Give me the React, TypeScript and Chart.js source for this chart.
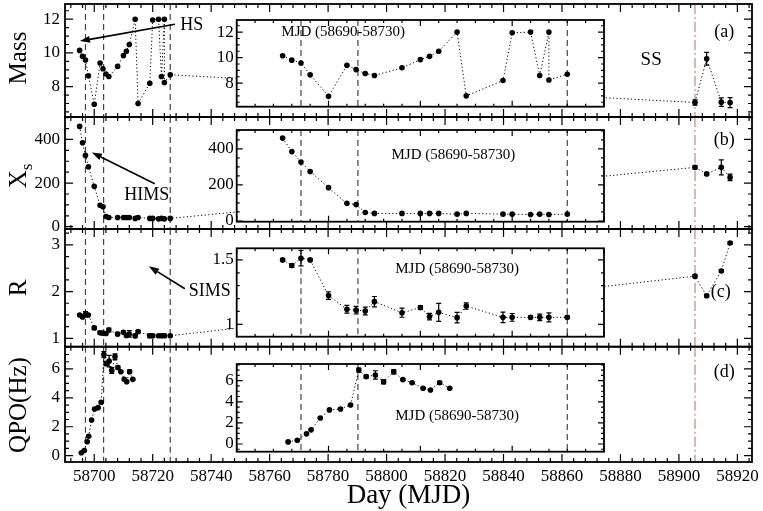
import { useEffect, useRef } from "react";
import { Chart, registerables } from "chart.js";

// Registra todos os controladores, elementos, escalas e plugins do Chart.js
Chart.register(...registerables);

const W = 763;
const H = 511;
const SERIF = '"Liberation Serif", "Times New Roman", serif';

// Eixo de tempo (MJD)
const dayMin = 58690;
const dayMax = 58925;
const insetDayMin = 58690;
const insetDayMax = 58730;
const dayTicks = [58700, 58720, 58740, 58760, 58780, 58800, 58820, 58840, 58860, 58880, 58900, 58920];
const stateLines = [58697, 58703.2, 58726];
const ssLine = 58905.5;

// Dias das observações
const earlyDays = [58695, 58696, 58697, 58698, 58700, 58702, 58703, 58704, 58705, 58708, 58710, 58711, 58712, 58714, 58715, 58719, 58720, 58722, 58723, 58724, 58726];
const massDays = [58695, 58696, 58697, 58698, 58700, 58702, 58703, 58704, 58705, 58708, 58710, 58711, 58712, 58714, 58715, 58719, 58720, 58722, 58723, 58724, 58724, 58726];
const lateDays = [58905.5, 58909.5, 58914.5, 58917.5];
const qpoDays = [58695.6, 58696.6, 58697.6, 58698.1, 58699.1, 58700.1, 58701.3, 58702.4, 58703.3, 58704.1, 58705.1, 58706.0, 58707.1, 58708.1, 58709.1, 58710.3, 58711.1, 58712.1, 58713.2];

// Massa
const massEarly = [10.15, 9.8, 9.58, 8.65, 6.96, 9.4, 9.06, 8.75, 8.6, 9.2, 9.84, 10.1, 10.5, 12.0, 7.0, 8.2, 11.95, 12.0, 8.6, 12.0, 8.25, 8.7];
const massLate = [7.06, 9.65, 7.08, 7.05];
const massLateErr = [0.15, 0.38, 0.25, 0.3];

// X_s
const xsEarly = [460, 385, 327, 275, 185, 98, 91, 47, 42, 42, 42, 42, 42, 38, 42, 38, 38, 36, 38, 36, 38];
const xsLate = [272, 242, 272, 226];
const xsLateErr = [8, 6, 34, 15];

// R
const rEarly = [1.5, 1.456, 1.513, 1.5, 1.223, 1.117, 1.11, 1.104, 1.176, 1.09, 1.13, 1.06, 1.093, 1.052, 1.142, 1.054, 1.054, 1.054, 1.054, 1.054, 1.054];
const rEarlyErr = [0.008, 0.015, 0.06, 0.008, 0.03, 0.03, 0.03, 0.03, 0.04, 0.035, 0.015, 0.025, 0.07, 0.04, 0.025, 0.04, 0.03, 0.01, 0.025, 0.035, 0.01];
const rLate = [2.33, 1.91, 2.44, 3.04];
const rLateErr = [0.03, 0.03, 0.03, 0.03];

// QPO
const qpoVals = [0.2, 0.36, 0.96, 1.34, 2.47, 3.23, 3.32, 3.7, 7.0, 6.38, 6.54, 5.9, 6.85, 6.1, 5.81, 5.28, 5.12, 5.81, 5.28];
const qpoErr = [0.05, 0.05, 0.05, 0.05, 0.05, 0.05, 0.05, 0.05, 0.2, 0.15, 0.4, 0.2, 0.2, 0.1, 0.05, 0.05, 0.05, 0.12, 0.05];

// Rótulos dos eixos y
const massTicks = [8, 10, 12];
const xsTicks = [0, 200, 400];
const rTicks = [1, 2, 3];
const rInsetTicks = [1, 1.5];
const qpoTicks = [0, 2, 4, 6];

const insetLabel = "MJD (58690-58730)";

type Pt = { x: number; y: number; e: number };
type Range = [number, number, number, number]; // min, max, passo maior, passo menor

interface Note { x: number; y: number; text: string; size: number }
interface Arrow { from: [number, number]; to: [number, number] }
interface Panel {
  box: [number, number, number, number];
  axisW: number;
  labelPad: number;
  x: Range;
  y: Range;
  yTicks: number[];
  xTicks?: number[];
  data: Pt[];
  inset?: boolean;
  notes?: Note[];
  arrows?: Arrow[];
  yTitle?: { text: string; sub?: string; cy: number };
  xTitle?: string;
}

const pts = (xs: number[], ys: number[], es?: number[]): Pt[] =>
  xs.map((x, i) => ({ x, y: ys[i], e: es ? es[i] : 0 }));

const mainX: Range = [dayMin, dayMax, 20, 4];
const insetX: Range = [insetDayMin, insetDayMax, 10, 2];

const panels: Panel[] = [
  {
    box: [65, 4, 752, 117], axisW: 65, labelPad: 5, x: mainX, y: [6.2, 12.9, 2, 0.5], yTicks: massTicks,
    data: [...pts(massDays, massEarly), ...pts(lateDays, massLate, massLateErr)],
    notes: [
      { x: 58733.4, y: 11.64, text: "HS", size: 18 },
      { x: 58890.5, y: 9.57, text: "SS", size: 19 },
      { x: 58915.5, y: 11.23, text: "(a)", size: 18 },
    ],
    arrows: [{ from: [58727.6, 11.7], to: [58695.1, 10.7] }],
    yTitle: { text: "Mass", cy: 58 },
  },
  {
    box: [65, 117, 752, 229], axisW: 65, labelPad: 5, x: mainX, y: [-10.6, 503, 200, 50], yTicks: xsTicks,
    data: [...pts(earlyDays, xsEarly), ...pts(lateDays, xsLate, xsLateErr)],
    notes: [
      { x: 58718, y: 142, text: "HIMS", size: 18 },
      { x: 58915.5, y: 395, text: "(b)", size: 18 },
    ],
    arrows: [{ from: [58720.7, 197], to: [58699.2, 340] }],
    yTitle: { text: "X", sub: "s", cy: 176 },
  },
  {
    box: [65, 229, 752, 346.7], axisW: 65, labelPad: 5, x: mainX, y: [0.82, 3.34, 1, 0.25], yTicks: rTicks,
    data: [...pts(earlyDays, rEarly, rEarlyErr), ...pts(lateDays, rLate, rLateErr)],
    notes: [
      { x: 58739.5, y: 2.015, text: "SIMS", size: 18 },
      { x: 58914.3, y: 1.99, text: "(c)", size: 18 },
    ],
    arrows: [{ from: [58731, 2.06], to: [58718.7, 2.54] }],
    yTitle: { text: "R", cy: 288 },
  },
  {
    box: [65, 346.7, 752, 462], axisW: 65, labelPad: 5, x: mainX, y: [-0.44, 7.54, 2, 0.5], yTicks: qpoTicks,
    xTicks: dayTicks,
    data: pts(qpoDays, qpoVals, qpoErr),
    notes: [{ x: 58915.5, y: 5.79, text: "(d)", size: 18 }],
    yTitle: { text: "QPO(Hz)", cy: 405 },
    xTitle: "Day (MJD)",
  },
  // Gráficos internos (ampliação 58690-58730)
  {
    box: [236.7, 20, 604, 106.7], axisW: 40, labelPad: 3, x: insetX, y: [6.15, 12.95, 2, 0.5], yTicks: massTicks,
    data: pts(massDays, massEarly), inset: true,
    notes: [{ x: 58701.6, y: 12.0, text: insetLabel, size: 15 }],
  },
  {
    box: [236.7, 130, 604, 221.7], axisW: 40, labelPad: 3, x: insetX, y: [-4, 505, 200, 50], yTicks: xsTicks,
    data: pts(earlyDays, xsEarly), inset: true,
    notes: [{ x: 58713.6, y: 365, text: insetLabel, size: 15 }],
  },
  {
    box: [236.7, 248.3, 604, 336.7], axisW: 40, labelPad: 3, x: insetX, y: [0.904, 1.59, 0.5, 0.1], yTicks: rInsetTicks,
    data: pts(earlyDays, rEarly, rEarlyErr), inset: true,
    notes: [{ x: 58714, y: 1.43, text: insetLabel, size: 15 }],
  },
  {
    box: [236.7, 364, 604, 451.7], axisW: 40, labelPad: 3, x: insetX, y: [-0.73, 7.58, 2, 0.5], yTicks: qpoTicks,
    data: pts(qpoDays, qpoVals, qpoErr), inset: true,
    notes: [{ x: 58714, y: 2.66, text: insetLabel, size: 15 }],
  },
];

// Gera as posições dos traços (maiores e menores) de um eixo
function tickSet(min: number, max: number, major: number, minor: number) {
  const out: { v: number; major: boolean }[] = [];
  const start = Math.ceil(min / minor - 1e-9);
  const end = Math.floor(max / minor + 1e-9);
  for (let k = start; k <= end; k++) {
    const v = k * minor;
    const r = v / major;
    out.push({ v, major: Math.abs(r - Math.round(r)) < 1e-6 });
  }
  return out;
}

function makeChart(canvas: HTMLCanvasElement, p: Panel) {
  const [left, top, right, bottom] = p.box;
  const hasX = !!p.xTicks;
  const majLen = p.inset ? 6 : 8;
  const minLen = p.inset ? 3 : 4;

  const decor = {
    id: "decor",
    beforeDraw(chart: any) {
      const { ctx, chartArea: a } = chart;
      if (p.inset) {
        ctx.save();
        ctx.fillStyle = "#fff";
        ctx.fillRect(a.left, a.top, a.right - a.left, a.bottom - a.top);
        ctx.restore();
      }
    },
    beforeDatasetsDraw(chart: any) {
      const { ctx, chartArea: a, scales } = chart;
      ctx.save();
      ctx.beginPath();
      ctx.rect(a.left, a.top, a.right - a.left, a.bottom - a.top);
      ctx.clip();
      // Linhas de transição de estado
      ctx.strokeStyle = "#444";
      ctx.lineWidth = 1.2;
      ctx.setLineDash([6, 4]);
      for (const d of stateLines) {
        const px = scales.x.getPixelForValue(d);
        ctx.beginPath();
        ctx.moveTo(px, a.top);
        ctx.lineTo(px, a.bottom);
        ctx.stroke();
      }
      if (!p.inset) {
        ctx.strokeStyle = "#c8a0a0";
        ctx.lineWidth = 1.5;
        ctx.setLineDash([10, 3, 2, 3]);
        const px = scales.x.getPixelForValue(ssLine);
        ctx.beginPath();
        ctx.moveTo(px, a.top);
        ctx.lineTo(px, a.bottom);
        ctx.stroke();
      }
      ctx.restore();
    },
    afterDatasetsDraw(chart: any) {
      const { ctx, chartArea: a, scales } = chart;
      const sx = scales.x;
      const sy = scales.y;
      ctx.save();

      // Barras de erro
      ctx.save();
      ctx.beginPath();
      ctx.rect(a.left, a.top, a.right - a.left, a.bottom - a.top);
      ctx.clip();
      ctx.strokeStyle = "#000";
      ctx.lineWidth = 1.2;
      for (const d of p.data) {
        if (!d.e) continue;
        const px = sx.getPixelForValue(d.x);
        const y1 = sy.getPixelForValue(d.y + d.e);
        const y2 = sy.getPixelForValue(d.y - d.e);
        ctx.beginPath();
        ctx.moveTo(px, y1);
        ctx.lineTo(px, y2);
        ctx.moveTo(px - 2.5, y1);
        ctx.lineTo(px + 2.5, y1);
        ctx.moveTo(px - 2.5, y2);
        ctx.lineTo(px + 2.5, y2);
        ctx.stroke();
      }
      ctx.restore();

      // Moldura e traços internos
      ctx.strokeStyle = "#000";
      ctx.lineWidth = 1.8;
      ctx.strokeRect(a.left, a.top, a.right - a.left, a.bottom - a.top);
      ctx.lineWidth = 1.2;
      ctx.beginPath();
      for (const t of tickSet(p.x[0], p.x[1], p.x[2], p.x[3])) {
        const px = sx.getPixelForValue(t.v);
        const len = t.major ? majLen : minLen;
        ctx.moveTo(px, a.top);
        ctx.lineTo(px, a.top + len);
        ctx.moveTo(px, a.bottom);
        ctx.lineTo(px, a.bottom - len);
      }
      for (const t of tickSet(p.y[0], p.y[1], p.y[2], p.y[3])) {
        const py = sy.getPixelForValue(t.v);
        const len = t.major ? majLen : minLen;
        ctx.moveTo(a.left, py);
        ctx.lineTo(a.left + len, py);
        ctx.moveTo(a.right, py);
        ctx.lineTo(a.right - len, py);
      }
      ctx.stroke();

      // Anotações
      ctx.fillStyle = "#000";
      ctx.textAlign = "center";
      ctx.textBaseline = "middle";
      for (const n of p.notes ?? []) {
        ctx.font = `${n.size}px ${SERIF}`;
        ctx.fillText(n.text, sx.getPixelForValue(n.x), sy.getPixelForValue(n.y));
      }

      // Setas
      for (const ar of p.arrows ?? []) {
        const x1 = sx.getPixelForValue(ar.from[0]);
        const y1 = sy.getPixelForValue(ar.from[1]);
        const x2 = sx.getPixelForValue(ar.to[0]);
        const y2 = sy.getPixelForValue(ar.to[1]);
        const ang = Math.atan2(y2 - y1, x2 - x1);
        const hl = 10;
        const hw = 3.5;
        const bx = x2 - hl * Math.cos(ang);
        const by = y2 - hl * Math.sin(ang);
        ctx.lineWidth = 1.6;
        ctx.beginPath();
        ctx.moveTo(x1, y1);
        ctx.lineTo(bx, by);
        ctx.stroke();
        ctx.beginPath();
        ctx.moveTo(x2, y2);
        ctx.lineTo(bx + hw * Math.sin(ang), by - hw * Math.cos(ang));
        ctx.lineTo(bx - hw * Math.sin(ang), by + hw * Math.cos(ang));
        ctx.closePath();
        ctx.fill();
      }

      // Título do eixo y (girado)
      if (p.yTitle) {
        const t = p.yTitle;
        ctx.save();
        ctx.translate(26, t.cy);
        ctx.rotate(-Math.PI / 2);
        ctx.textAlign = "left";
        ctx.textBaseline = "alphabetic";
        ctx.font = `25px ${SERIF}`;
        const w1 = ctx.measureText(t.text).width;
        let w2 = 0;
        if (t.sub) {
          ctx.font = `17px ${SERIF}`;
          w2 = ctx.measureText(t.sub).width;
        }
        const x0 = -(w1 + w2) / 2;
        ctx.font = `25px ${SERIF}`;
        ctx.fillText(t.text, x0, 0);
        if (t.sub) {
          ctx.font = `17px ${SERIF}`;
          ctx.fillText(t.sub, x0 + w1, 6);
        }
        ctx.restore();
      }

      // Título do eixo x
      if (p.xTitle) {
        ctx.font = `27px ${SERIF}`;
        ctx.textAlign = "center";
        ctx.textBaseline = "middle";
        ctx.fillText(p.xTitle, (a.left + a.right) / 2, 496);
      }
      ctx.restore();
    },
  };

  return new Chart(canvas, {
    type: "line",
    data: {
      datasets: [
        {
          data: p.data as any,
          borderColor: "#000",
          borderWidth: 1,
          borderDash: [1.2, 2.4],
          pointRadius: 2.8,
          pointBackgroundColor: "#000",
          pointBorderWidth: 0,
          tension: 0,
          fill: false,
        },
      ],
    },
    options: {
      animation: false,
      responsive: false,
      events: [],
      layout: {
        padding: { left: left - p.axisW, top, right: W - right, bottom: hasX ? 0 : H - bottom },
      },
      plugins: { legend: { display: false }, tooltip: { enabled: false } },
      scales: {
        x: {
          type: "linear",
          min: p.x[0],
          max: p.x[1],
          display: hasX,
          grid: { display: false, drawTicks: false },
          border: { display: false },
          ticks: {
            font: { family: SERIF, size: 17 },
            color: "#000",
            padding: 4,
            maxRotation: 0,
            autoSkip: false,
            callback: (v: any) => String(v),
          },
          afterBuildTicks: (s: any) => {
            if (p.xTicks) s.ticks = p.xTicks.map((v) => ({ value: v }));
          },
          afterFit: (s: any) => {
            s.height = hasX ? H - bottom : 0;
            s.paddingLeft = 0;
            s.paddingRight = 0;
          },
        },
        y: {
          type: "linear",
          min: p.y[0],
          max: p.y[1],
          grid: { display: false, drawTicks: false },
          border: { display: false },
          ticks: {
            font: { family: SERIF, size: 17 },
            color: "#000",
            padding: p.labelPad,
            callback: (v: any) => String(v),
          },
          afterBuildTicks: (s: any) => {
            s.ticks = p.yTicks.map((v) => ({ value: v }));
          },
          afterFit: (s: any) => {
            s.width = p.axisW;
            s.paddingTop = 0;
            s.paddingBottom = 0;
          },
        },
      },
    } as any,
    plugins: [decor],
  });
}

function PanelCanvas({ panel }: { panel: Panel }) {
  const chartRef = useRef<HTMLCanvasElement>(null);

  useEffect(() => {
    const canvas = chartRef.current;
    if (!canvas) return;
    const chart = makeChart(canvas, panel);
    // Limpa o gráfico quando o componente for desmontado
    return () => chart.destroy();
  }, [panel]);

  return (
    <canvas
      ref={chartRef}
      width={W}
      height={H}
      style={{ position: "absolute", left: 0, top: 0 }}
    />
  );
}

export default function App() {
  return (
    <div
      style={{
        position: "fixed",
        left: 0,
        top: 0,
        width: W,
        height: H,
        background: "#fff",
        overflow: "hidden",
      }}
    >
      {panels.map((p, i) => (
        <PanelCanvas key={i} panel={p} />
      ))}
    </div>
  );
}
